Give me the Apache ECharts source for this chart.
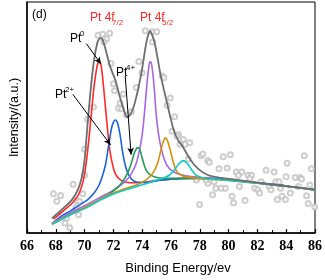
<!DOCTYPE html>
<html>
<head>
<meta charset="utf-8">
<script src="https://cdn.jsdelivr.net/npm/echarts@6/dist/echarts.min.js"></script>
<style>
  html, body { margin: 0; padding: 0; background: #fff; }
  #main { width: 325px; height: 280px; }
</style>
</head>
<body>
<div id="main"></div>
<script>
// binding energy (eV), intensity (a.u.)
var rawPoints = [
    [67.84, 40.3], [68.07, 32.6], [68.34, 38.6], [68.64, 10.3], [68.75, 15.3], [68.97, 5.3],
    [69.2, 50], [69.4, 26], [69.45, 33], [69.58, 18.6], [69.65, 32.6], [69.87, 40.3],
    [69.99, 59.3], [69.99, 86], [70.21, 116.6], [70.61, 129.3],
    [70.93, 203], [71.25, 204], [71.74, 205], [71.52, 199], [71.34, 196], [71.83, 174],
    [72.01, 153], [72.08, 146], [72.47, 133], [72.35, 128], [72.69, 142.6], [72.57, 127.6],
    [72.91, 121], [73.25, 124.3], [73.59, 149.3],
    [74.22, 207.6], [74.67, 206.6], [75.01, 206.6], [74.72, 196], [73.77, 176], [73.99, 164.3],
    [75.39, 161], [75.51, 159.3], [75.95, 138.6], [75.73, 131], [76.25, 119.3], [76.52, 101],
    [76.07, 104.3], [76.41, 99.3], [76.86, 96], [76.97, 91], [77.3, 92.6], [76.63, 91],
    [77.2, 76], [77.82, 56], [78.09, 79.3], [78.55, 74.3], [77.98, 29.3], [77.76, 54.3], [78.55, 51],
    [78.21, 81], [78.66, 72.6], [79.63, 78.3], [80.12, 80.3], [79.33, 66], [79.9, 66.6],
    [78.43, 54.3], [78.99, 52.6], [79.11, 46], [79.49, 46], [79.78, 46], [78.89, 39.3],
    [80.24, 37.6], [80.34, 31], [80.75, 47.6], [80.53, 62.6], [80.91, 62.6], [80.68, 59.3],
    [81.36, 59.3], [81.59, 59.3], [81.47, 56], [81.14, 33.3], [81.81, 46], [82.03, 44.3],
    [82.15, 41], [82.26, 52.6], [82.6, 64.3], [83.16, 62.6], [82.82, 47.6], [82.94, 44.3],
    [83.28, 52.6], [83.5, 52.6], [83.61, 46], [83.39, 34.3], [83.72, 37.6], [84.06, 71.6],
    [83.99, 57.6], [83.95, 34.3], [84.29, 41], [84.63, 57], [84.97, 57], [85.07, 55.3],
    [85.26, 79.3], [84.85, 47.6], [85.41, 38.3], [85.53, 30.3], [85.64, 49.3], [85.75, 66],
    [85.98, 26.6]
];

var envelope = [
    [67.73, 15], [68.2, 21], [68.64, 27], [69.09, 33.5], [69.53, 44.3], [69.8, 57], [69.99, 74],
    [70.21, 112], [70.44, 150], [70.66, 178], [70.88, 195], [71.0, 199], [71.11, 200], [71.22, 199],
    [71.35, 194], [71.5, 186], [71.79, 170], [72.13, 157], [72.46, 139], [72.75, 125],
    [72.96, 119], [73.2, 122], [73.48, 133], [73.93, 163], [74.27, 194], [74.45, 205],
    [74.56, 207], [74.67, 204], [74.85, 196], [75.0, 185], [75.28, 162], [75.73, 133],
    [76.18, 106], [76.5, 95], [76.8, 89], [77.31, 76], [77.87, 66], [78.55, 59.5],
    [79.5, 56.5], [80.35, 55], [82.6, 50.5], [84.85, 46.5], [86, 44.5]
];

var pt0A = [
    [67.84, 14.3], [68.2, 18.5], [68.64, 24.3], [69.1, 30], [69.53, 38], [69.8, 48],
    [69.99, 60], [70.21, 84.3], [70.44, 117.6], [70.66, 151], [70.85, 170], [70.94, 174.5],
    [71.02, 176], [71.1, 174.5], [71.18, 169], [71.31, 151], [71.52, 117.6], [71.74, 86],
    [72.01, 66], [72.25, 58], [72.55, 54], [73.14, 51.5], [74, 51.8], [75, 54], [76, 55.5],
    [78, 56.3], [80, 54.5], [82, 51.5], [84, 48.3], [86, 44.3]
];

var pt2A = [
    [67.84, 11], [68.41, 17.6], [69, 22.5], [69.53, 27.6], [70.2, 34], [70.66, 41], [71, 49],
    [71.22, 57.6], [71.45, 70], [71.65, 88], [71.85, 106], [71.98, 113], [72.13, 116],
    [72.28, 113], [72.45, 102], [72.65, 82], [72.85, 68], [73.05, 60], [73.36, 54],
    [73.7, 52], [74.2, 52], [75, 53.5], [76, 55.3], [78, 56.3], [80, 54.5], [82, 51.5],
    [84, 48.3], [86, 44.3]
];

var pt4A = [
    [67.73, 9.3], [69, 19], [70, 26], [71, 34], [71.8, 41], [72.3, 47], [72.65, 53],
    [73.0, 62], [73.25, 72], [73.45, 82], [73.6, 86.5], [73.7, 87.6], [73.82, 86],
    [74.0, 77], [74.2, 67], [74.45, 61], [74.83, 57.6], [75.51, 56], [76.5, 56], [78, 56],
    [80, 54.3], [82, 51.3], [84, 48.3], [86, 44.3]
];

var pt0B = [
    [67.73, 10], [69, 20.5], [70, 28], [71, 36], [72, 44], [72.5, 49], [72.91, 54.3],
    [73.25, 61], [73.55, 70], [73.8, 84], [74.0, 101], [74.15, 122], [74.3, 148], [74.42, 166],
    [74.5, 174], [74.57, 176], [74.64, 174], [74.72, 166], [74.84, 148], [74.97, 122],
    [75.15, 100], [75.4, 82], [75.7, 70], [76.1, 63.5], [76.63, 60], [77.53, 57.6],
    [78.5, 56.5], [80, 54.5], [82, 51.5], [84, 48.3], [86, 44.3]
];

var pt2B = [
    [67.73, 9.5], [69, 19], [70, 26], [71, 34], [72, 41], [73, 46.5], [73.59, 49.3],
    [74.1, 53], [74.5, 57.5], [74.85, 64], [75.1, 73], [75.3, 85], [75.47, 94], [75.62, 97.7],
    [75.77, 94], [75.95, 85], [76.15, 73], [76.4, 63], [76.75, 59], [77.2, 57.3], [78, 56],
    [79, 55], [80, 54], [82, 51], [84, 48], [86, 44]
];

var pt4B = [
    [67.73, 8.7], [69, 18.5], [70, 25], [71, 33], [72, 40], [73, 45], [74, 49.5],
    [75, 54], [75.5, 56.5], [75.9, 59.5], [76.25, 65], [76.55, 71], [76.86, 74.3],
    [77.15, 71], [77.4, 65.5], [77.7, 60], [78.1, 57], [78.8, 55.5], [80, 54],
    [82, 51], [84, 48], [86, 44]
];

// arrows: [from, to] in data units
var arrows = [
    [[70.12, 194.3], [71.14, 173.3]],
    [[69.18, 142.3], [71.81, 90.3]],
    [[72.82, 161.3], [73.23, 80.3]]
];

var dom = document.getElementById('main');
var myChart = echarts.init(dom);

function curve(name, data, color, width, z) {
    return {
        name: name,
        type: 'line',
        data: data,
        showSymbol: false,
        smooth: 0.3,
        lineStyle: { color: color, width: width },
        silent: true,
        z: z || 3
    };
}

var sansFont = 'Liberation Sans, Arial, sans-serif';
var redText = '#ff2626';

function txt(left, top, s, size, color) {
    return {
        type: 'text', left: left, top: top,
        style: { text: s, fontSize: size, fontFamily: sansFont, fill: color || '#000' }
    };
}

var option = {
    animation: false,
    backgroundColor: '#fff',
    grid: {
        left: 21, right: 8, top: 2, bottom: 41,
        show: true, borderColor: '#000', borderWidth: 1
    },
    xAxis: {
        type: 'value',
        min: 66, max: 86, interval: 2,
        name: 'Binding Energy/ev',
        nameLocation: 'middle',
        nameGap: 29,
        nameTextStyle: { fontSize: 13, fontFamily: sansFont, color: '#000', padding: [0, 0, 0, 14] },
        axisLine: { lineStyle: { color: '#000', width: 1.5 } },
        axisTick: { inside: true, length: 4, lineStyle: { color: '#000', width: 1.2 } },
        minorTick: { show: true, splitNumber: 2, length: 3, lineStyle: { color: '#000', width: 1 } },
        axisLabel: {
            fontSize: 14, fontWeight: 'bold', color: '#000', margin: 6,
            fontFamily: '"Liberation Serif", "Times New Roman", serif'
        },
        splitLine: { show: false }
    },
    yAxis: {
        type: 'value',
        min: 0, max: 237,
        name: 'Intensity/(a.u.)',
        nameLocation: 'middle',
        nameGap: 6,
        nameRotate: 90,
        nameTextStyle: { fontSize: 12.5, fontFamily: sansFont, color: '#000' },
        axisLine: { show: true, lineStyle: { color: '#000', width: 1.5 } },
        axisTick: { show: false },
        axisLabel: { show: false },
        splitLine: { show: false }
    },
    series: [
        {
            name: 'raw',
            type: 'scatter',
            data: rawPoints,
            symbol: 'emptyCircle',
            symbolSize: 5,
            itemStyle: { color: '#c2c2c2', borderWidth: 0.9 },
            silent: true,
            z: 2
        },
        curve('Pt0 4f7/2', pt0A, '#ff2a2a', 1.6),
        curve('Pt2+ 4f7/2', pt2A, '#1a62dc', 1.6),
        curve('Pt0 4f5/2', pt0B, '#a865e6', 1.6),
        curve('Pt4+ 4f7/2', pt4A, '#1f9e57', 1.6),
        curve('Pt2+ 4f5/2', pt2B, '#d4920a', 1.6),
        curve('Pt4+ 4f5/2', pt4B, '#12c8c8', 1.6),
        {
            name: 'envelope',
            type: 'line',
            data: envelope,
            showSymbol: false,
            smooth: 0.3,
            lineStyle: { color: '#6e6e6e', width: 1.8 },
            silent: true,
            z: 4,
            markLine: {
                silent: true,
                symbol: ['none', 'arrow'],
                symbolSize: [5, 7],
                label: { show: false },
                lineStyle: { color: '#000', width: 1, type: 'solid' },
                data: arrows.map(function (a) {
                    return [{ coord: a[0] }, { coord: a[1] }];
                })
            }
        }
    ],
    graphic: [
        txt(32, 9, '(d)', 12),
        txt(90, 12, 'Pt 4f', 12, redText),
        txt(112, 19, '7/2', 8, redText),
        txt(140, 12, 'Pt 4f', 12, redText),
        txt(162, 19, '5/2', 8, redText),
        txt(70, 33, 'Pt', 12),
        txt(80, 30, '0', 8),
        txt(116, 67, 'Pt', 12),
        txt(126, 64, '4+', 8),
        txt(55, 89, 'Pt', 12),
        txt(65, 86, '2+', 8)
    ]
};

if (option && typeof option === "object") {
    myChart.setOption(option, true);
}
</script>
</body>
</html>
